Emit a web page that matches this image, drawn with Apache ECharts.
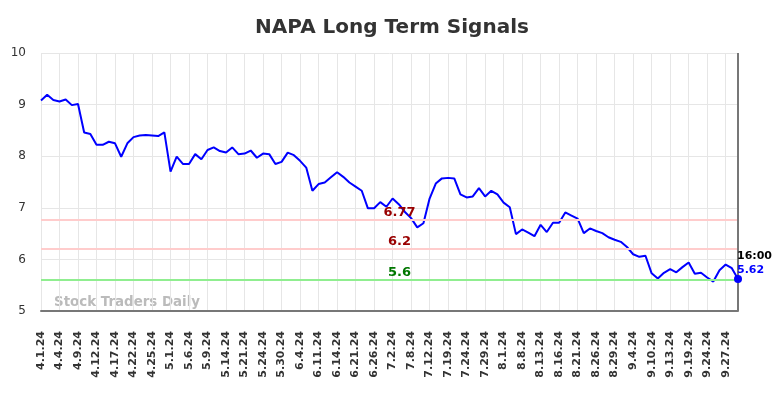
<!DOCTYPE html>
<html>
<head>
<meta charset="utf-8">
<script src="https://cdn.jsdelivr.net/npm/echarts@6/dist/echarts.min.js"></script>
<style>
  html, body { margin: 0; padding: 0; background: #fff; }
  #chart { width: 784px; height: 398px; }
</style>
</head>
<body>
<div id="chart"></div>
<script>
// trading days shown on the chart (every 3rd one is labelled)
var dates = [
  '4.1.24','4.2.24','4.3.24','4.4.24','4.5.24','4.8.24','4.9.24','4.10.24','4.11.24',
  '4.12.24','4.15.24','4.16.24','4.17.24','4.18.24','4.19.24','4.22.24','4.23.24','4.24.24',
  '4.25.24','4.26.24','4.29.24','5.1.24','5.2.24','5.3.24','5.6.24','5.7.24','5.8.24',
  '5.9.24','5.10.24','5.13.24','5.14.24','5.15.24','5.16.24','5.21.24','5.22.24','5.23.24',
  '5.24.24','5.28.24','5.29.24','5.30.24','5.31.24','6.3.24','6.4.24','6.5.24','6.6.24',
  '6.11.24','6.12.24','6.13.24','6.14.24','6.17.24','6.18.24','6.21.24','6.24.24','6.25.24',
  '6.26.24','6.27.24','6.28.24','7.2.24','7.3.24','7.5.24','7.8.24','7.9.24','7.10.24',
  '7.12.24','7.15.24','7.16.24','7.19.24','7.22.24','7.23.24','7.24.24','7.25.24','7.26.24',
  '7.29.24','7.30.24','7.31.24','8.1.24','8.2.24','8.5.24','8.8.24','8.9.24','8.12.24',
  '8.13.24','8.14.24','8.15.24','8.16.24','8.19.24','8.20.24','8.21.24','8.22.24','8.23.24',
  '8.26.24','8.27.24','8.28.24','8.29.24','8.30.24','9.3.24','9.4.24','9.5.24','9.6.24',
  '9.10.24','9.11.24','9.12.24','9.13.24','9.16.24','9.17.24','9.19.24','9.20.24','9.23.24',
  '9.24.24','9.25.24','9.26.24','9.27.24','9.30.24','10.1.24'
];

var prices = [
  9.08, 9.19, 9.09, 9.06, 9.10, 8.99, 9.01, 8.46, 8.43, 8.22, 8.22, 8.28, 8.25, 7.99, 8.25, 8.37, 8.40, 8.41, 8.40, 8.39,
  8.46, 7.70, 7.99, 7.85, 7.85, 8.04, 7.94, 8.12, 8.17, 8.10, 8.07, 8.17, 8.04, 8.05, 8.11, 7.97, 8.05, 8.04, 7.85, 7.89,
  8.07, 8.02, 7.91, 7.78, 7.33, 7.46, 7.49, 7.59, 7.69, 7.60, 7.49, 7.41, 7.33, 6.99, 6.99, 7.11, 7.02,
  7.18, 7.07, 6.92, 6.80, 6.62, 6.70, 7.18, 7.47, 7.57, 7.58, 7.57, 7.26, 7.20, 7.22, 7.38, 7.22, 7.33, 7.26, 7.10, 7.01,
  6.49, 6.58, 6.52, 6.45, 6.67, 6.53, 6.71, 6.71, 6.91, 6.85, 6.79, 6.51, 6.60, 6.55, 6.51, 6.43, 6.38, 6.34, 6.24,
  6.10, 6.05, 6.07, 5.73, 5.63, 5.74, 5.81, 5.75, 5.85, 5.94, 5.72, 5.74, 5.65, 5.57, 5.79, 5.90, 5.83, 5.62
];

// signal levels
var resistHigh = 6.77;
var resistLow = 6.2;
var support = 5.6;
var lastTime = '16:00';

var yTicks = [5, 6, 7, 8, 9, 10];

var chart = echarts.init(document.getElementById('chart'));

var lastIdx = prices.length - 1;
var lastVal = prices[lastIdx];

function levelLine(val, lineColor, textColor) {
    return {
        yAxis: val,
        lineStyle: { color: lineColor, width: 2, type: 'solid' },
        label: {
            show: true,
            position: 'middle',
            formatter: String(val),
            color: textColor,
            fontWeight: 'bold',
            fontSize: 13,
            fontFamily: 'DejaVu Sans',
            distance: 1,
            offset: [10, 0]
        }
    };
}

var option = {
    animation: false,
    title: {
        text: 'NAPA Long Term Signals',
        left: 'center',
        top: 13,
        textStyle: { fontSize: 20, fontWeight: 'bold', color: '#333', fontFamily: 'DejaVu Sans' }
    },
    grid: { left: 41, right: 46, top: 53, bottom: 87 },
    graphic: [{
        type: 'text',
        left: 54,
        top: 296,
        style: {
            text: 'Stock Traders Daily',
            fill: '#bbb',
            font: 'bold 13.4px DejaVu Sans'
        }
    }],
    xAxis: {
        type: 'category',
        data: dates,
        boundaryGap: false,
        axisLine: { lineStyle: { color: '#777', width: 2 } },
        axisTick: { show: false },
        axisLabel: {
            interval: 2,
            rotate: 90,
            margin: 20,
            fontSize: 11,
            fontWeight: 'bold',
            color: '#333',
            fontFamily: 'DejaVu Sans'
        },
        splitLine: { show: true, interval: 2, lineStyle: { color: '#e6e6e6', width: 1 } }
    },
    yAxis: {
        type: 'value',
        min: yTicks[0],
        max: yTicks[yTicks.length - 1],
        interval: 1,
        axisLine: { show: false },
        axisTick: { show: false },
        axisLabel: { fontSize: 12, color: '#333', margin: 15, fontFamily: 'DejaVu Sans' },
        splitLine: { lineStyle: { color: '#e6e6e6', width: 1 } }
    },
    series: [{
        type: 'line',
        data: prices,
        showSymbol: false,
        lineStyle: { color: '#0000ff', width: 2 },
        itemStyle: { color: '#0000ff' },
        markPoint: {
            silent: true,
            symbol: 'circle',
            symbolSize: 8,
            itemStyle: { color: '#0000ff' },
            data: [{
                coord: [lastIdx, lastVal],
                label: {
                    show: true,
                    position: [3, -26],
                    align: 'left',
                    formatter: '{t|' + lastTime + '}\n{v|' + lastVal.toFixed(2) + '}',
                    rich: {
                        t: { color: '#000', fontWeight: 'bold', fontSize: 11, lineHeight: 14, fontFamily: 'DejaVu Sans' },
                        v: { color: '#0000ff', fontWeight: 'bold', fontSize: 11, lineHeight: 14, fontFamily: 'DejaVu Sans' }
                    }
                }
            }]
        },
        markLine: {
            silent: true,
            symbol: 'none',
            data: [
                levelLine(resistHigh, '#ffcccc', '#990000'),
                levelLine(resistLow, '#ffcccc', '#990000'),
                levelLine(support, '#90ee90', '#007700'),
                {
                    xAxis: dates[lastIdx],
                    lineStyle: { color: '#777', width: 2, type: 'solid' },
                    label: { show: false }
                }
            ]
        }
    }]
};

chart.setOption(option);
</script>
</body>
</html>
